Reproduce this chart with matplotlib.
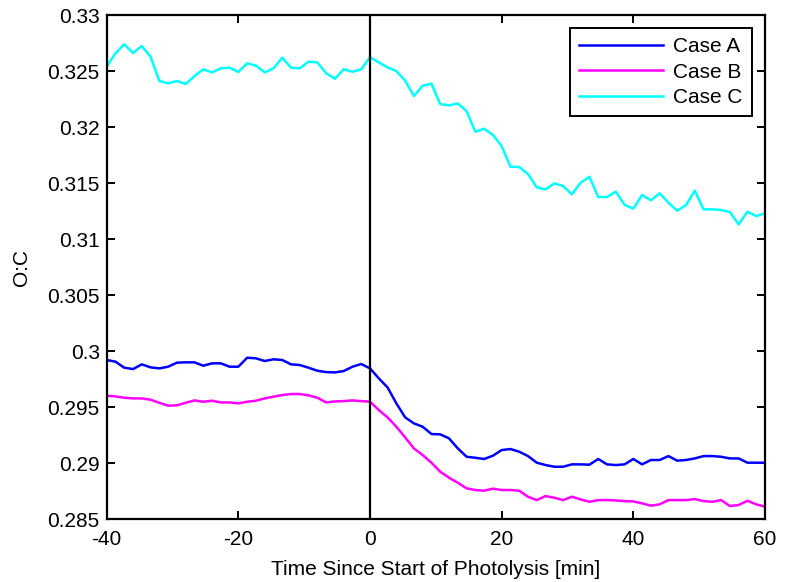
import numpy as np
import matplotlib
matplotlib.use("Agg")
import matplotlib.pyplot as plt

plt.rcParams['font.family'] = ['Liberation Sans', 'DejaVu Sans']
plt.rcParams['axes.unicode_minus'] = False

# time axis: one sample every 4/3 min from -40 to 60
time_min = np.linspace(-40, 60, 76)

case_a = [
    0.29920, 0.29905, 0.29851, 0.29839, 0.29881, 0.29854, 0.29845, 0.29860,
    0.29896, 0.29899, 0.29899, 0.29869, 0.29890, 0.29890, 0.29860, 0.29860,
    0.29940, 0.29935, 0.29911, 0.29926, 0.29920, 0.29881, 0.29875, 0.29851,
    0.29824, 0.29812, 0.29809, 0.29821, 0.29860, 0.29884, 0.29845,
    0.29756, 0.29675, 0.29533, 0.29408, 0.29354, 0.29324, 0.29259, 0.29256,
    0.29220, 0.29131, 0.29056, 0.29047, 0.29036, 0.29065, 0.29116, 0.29125,
    0.29101, 0.29062, 0.29003, 0.28982, 0.28967, 0.28967, 0.28988, 0.28988,
    0.28985, 0.29036, 0.28988, 0.28982, 0.28988, 0.29036, 0.28988, 0.29027,
    0.29027, 0.29062, 0.29021, 0.29027, 0.29041, 0.29062, 0.29062, 0.29056,
    0.29041, 0.29041, 0.29003, 0.29003, 0.29003,
]

case_b = [
    0.29601, 0.29595, 0.29583, 0.29577, 0.29577, 0.29565, 0.29538, 0.29512,
    0.29515, 0.29538, 0.29559, 0.29547, 0.29556, 0.29541, 0.29541, 0.29533,
    0.29547, 0.29556, 0.29577, 0.29592, 0.29607, 0.29616, 0.29616, 0.29604,
    0.29583, 0.29541, 0.29550, 0.29553, 0.29559, 0.29553, 0.29548,
    0.29473, 0.29408, 0.29324, 0.29229, 0.29131, 0.29071, 0.29003, 0.28922,
    0.28869, 0.28824, 0.28774, 0.28759, 0.28753, 0.28771, 0.28759, 0.28759,
    0.28753, 0.28699, 0.28669, 0.28705, 0.28690, 0.28669, 0.28699, 0.28675,
    0.28654, 0.28669, 0.28669, 0.28666, 0.28660, 0.28657, 0.28640, 0.28619,
    0.28631, 0.28669, 0.28669, 0.28669, 0.28678, 0.28660, 0.28654, 0.28669,
    0.28616, 0.28625, 0.28663, 0.28631, 0.28610,
]

case_c = [
    0.32539, 0.32658, 0.32738, 0.32661, 0.32723, 0.32628, 0.32411, 0.32390,
    0.32411, 0.32384, 0.32455, 0.32515, 0.32488, 0.32524, 0.32530, 0.32491,
    0.32569, 0.32548, 0.32488, 0.32524, 0.32619, 0.32530, 0.32524, 0.32583,
    0.32577, 0.32480, 0.32431, 0.32515, 0.32494, 0.32515, 0.32622,
    0.32577, 0.32533, 0.32500, 0.32414, 0.32277, 0.32369, 0.32387, 0.32205,
    0.32193, 0.32211, 0.32143, 0.31958, 0.31985, 0.31929, 0.31830, 0.31646,
    0.31643, 0.31580, 0.31461, 0.31443, 0.31497, 0.31473, 0.31399, 0.31503,
    0.31556, 0.31375, 0.31375, 0.31423, 0.31306, 0.31271, 0.31393, 0.31345,
    0.31408, 0.31324, 0.31253, 0.31303, 0.31431, 0.31265, 0.31265, 0.31259,
    0.31241, 0.31131, 0.31244, 0.31205, 0.31229,
]

x_ticks = [-40, -20, 0, 20, 40, 60]
y_ticks = [0.285, 0.29, 0.295, 0.3, 0.305, 0.31, 0.315, 0.32, 0.325, 0.33]
y_labels = ['0.285', '0.29', '0.295', '0.3', '0.305', '0.31', '0.315', '0.32', '0.325', '0.33']

fig = plt.figure(figsize=(7.88, 5.82), dpi=100)
ax = fig.add_axes([0.1354, 0.1082, 0.8354, 0.866])

ax.plot(time_min, case_a, color='#0000ff', lw=1.8, label='Case A')
ax.plot(time_min, case_b, color='#ff00ff', lw=1.8, label='Case B')
ax.plot(time_min, case_c, color='#00ffff', lw=1.8, label='Case C')
ax.axvline(0, color='black', lw=1.6)

ax.set_xlim(-40, 60)
ax.set_ylim(0.285, 0.33)
ax.set_xticks(x_ticks)
ax.set_yticks(y_ticks)
ax.set_yticklabels(y_labels)
ax.tick_params(direction='in', length=6, width=1.4, top=True, right=True,
               labelsize=15)
ax.tick_params(axis='y', pad=5)
ax.tick_params(axis='x', pad=8)
for s in ax.spines.values():
    s.set_linewidth(1.6)

ax.set_xlabel('Time Since Start of Photolysis [min]', fontsize=15, labelpad=8)
ax.set_ylabel('O:C', fontsize=15, labelpad=12)

leg = ax.legend(loc='upper right', bbox_to_anchor=(0.980, 0.974), borderaxespad=0,
                fontsize=15, handlelength=4.0, handletextpad=0.5, fancybox=False,
                framealpha=1, edgecolor='black', labelspacing=0.3, borderpad=0.45)
leg.get_frame().set_linewidth(1.4)

fig.savefig('out.png', dpi=100)
